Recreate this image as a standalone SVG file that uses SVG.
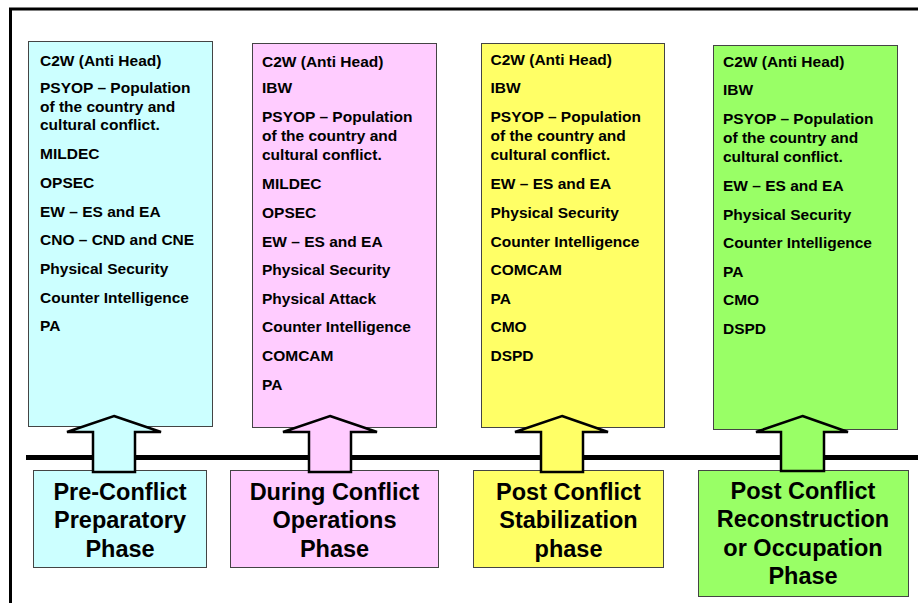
<svg xmlns="http://www.w3.org/2000/svg" width="918" height="603" viewBox="0 0 918 603">
<style>
.frame{fill:none;stroke:#000;stroke-width:3}
.box{stroke:#444;stroke-width:1}
.cy{fill:#CCFFFF}.pk{fill:#FFCCFF}.ye{fill:#FFFF66}.gr{fill:#99FF66}
.it{font-family:"Liberation Sans",Arial,sans-serif;font-weight:bold;font-size:15.5px;fill:#000}
.ph{font-family:"Liberation Sans",Arial,sans-serif;font-weight:bold;font-size:23.5px;fill:#000;text-anchor:middle}
.arr{stroke:#000;stroke-width:2.5;stroke-linejoin:miter}
.tl{stroke:#000;stroke-width:5}
</style>
<rect width="918" height="603" fill="#fff"/>
<path class="frame" d="M10.5,620 V9 H930"/>
<g id="connectors">
<line class="tl" x1="26" y1="457.5" x2="918" y2="457.5"/>
</g>
<g id="box1">
<rect class="box cy" x="28.5" y="41.5" width="184" height="385"/>
<text class="it" x="40" y="65.5">C2W (Anti Head)</text>
<text class="it" x="40" y="92.5">PSYOP – Population</text>
<text class="it" x="40" y="111.5">of the country and</text>
<text class="it" x="40" y="130">cultural conflict.</text>
<text class="it" x="40" y="159">MILDEC</text>
<text class="it" x="40" y="188">OPSEC</text>
<text class="it" x="40" y="216.5">EW – ES and EA</text>
<text class="it" x="40" y="245">CNO – CND and CNE</text>
<text class="it" x="40" y="274">Physical Security</text>
<text class="it" x="40" y="302.5">Counter Intelligence</text>
<text class="it" x="40" y="331">PA</text>
</g>
<g id="box2">
<rect class="box pk" x="252.5" y="43.5" width="184" height="384"/>
<text class="it" x="262" y="67">C2W (Anti Head)</text>
<text class="it" x="262" y="93">IBW</text>
<text class="it" x="262" y="122">PSYOP – Population</text>
<text class="it" x="262" y="141">of the country and</text>
<text class="it" x="262" y="159.5">cultural conflict.</text>
<text class="it" x="262" y="189">MILDEC</text>
<text class="it" x="262" y="218">OPSEC</text>
<text class="it" x="262" y="246.5">EW – ES and EA</text>
<text class="it" x="262" y="275">Physical Security</text>
<text class="it" x="262" y="303.5">Physical Attack</text>
<text class="it" x="262" y="332">Counter Intelligence</text>
<text class="it" x="262" y="361">COMCAM</text>
<text class="it" x="262" y="389.5">PA</text>
</g>
<g id="box3">
<rect class="box ye" x="481.5" y="43.5" width="183" height="384"/>
<text class="it" x="490.5" y="64.5">C2W (Anti Head)</text>
<text class="it" x="490.5" y="93">IBW</text>
<text class="it" x="490.5" y="122">PSYOP – Population</text>
<text class="it" x="490.5" y="141">of the country and</text>
<text class="it" x="490.5" y="160">cultural conflict.</text>
<text class="it" x="490.5" y="189">EW – ES and EA</text>
<text class="it" x="490.5" y="218">Physical Security</text>
<text class="it" x="490.5" y="246.5">Counter Intelligence</text>
<text class="it" x="490.5" y="275">COMCAM</text>
<text class="it" x="490.5" y="303.5">PA</text>
<text class="it" x="490.5" y="332">CMO</text>
<text class="it" x="490.5" y="361">DSPD</text>
</g>
<g id="box4">
<rect class="box gr" x="713.5" y="45.5" width="184" height="384"/>
<text class="it" x="723" y="66.5">C2W (Anti Head)</text>
<text class="it" x="723" y="95">IBW</text>
<text class="it" x="723" y="124">PSYOP – Population</text>
<text class="it" x="723" y="142.5">of the country and</text>
<text class="it" x="723" y="161.5">cultural conflict.</text>
<text class="it" x="723" y="190.5">EW – ES and EA</text>
<text class="it" x="723" y="219.5">Physical Security</text>
<text class="it" x="723" y="248">Counter Intelligence</text>
<text class="it" x="723" y="276.5">PA</text>
<text class="it" x="723" y="305">CMO</text>
<text class="it" x="723" y="334">DSPD</text>
</g>
<g id="phase1">
<rect class="box cy" x="33.5" y="470.5" width="173" height="97"/>
<text class="ph" x="120" y="499.5">Pre-Conflict</text>
<text class="ph" x="120" y="528">Preparatory</text>
<text class="ph" x="120" y="556.5">Phase</text>
</g>
<g id="phase2">
<rect class="box pk" x="230.5" y="470.5" width="208" height="97"/>
<text class="ph" x="334.5" y="499.5">During Conflict</text>
<text class="ph" x="334.5" y="528">Operations</text>
<text class="ph" x="334.5" y="556.5">Phase</text>
</g>
<g id="phase3">
<rect class="box ye" x="473.5" y="470.5" width="190" height="97"/>
<text class="ph" x="568.5" y="499.5">Post Conflict</text>
<text class="ph" x="568.5" y="528">Stabilization</text>
<text class="ph" x="568.5" y="556.5">phase</text>
</g>
<g id="phase4">
<rect class="box gr" x="698.5" y="470.5" width="210" height="126"/>
<text class="ph" x="803" y="498.5">Post Conflict</text>
<text class="ph" x="803" y="527">Reconstruction</text>
<text class="ph" x="803" y="555.5">or Occupation</text>
<text class="ph" x="803" y="584">Phase</text>
</g>
<g id="arrows">
<path class="arr cy" d="M114,416 L161,432 H135 V472 H93 V432 H67 Z"/>
<path class="arr pk" d="M330,416 L377,432 H351 V472 H309 V432 H283 Z"/>
<path class="arr ye" d="M562,416 L608,432 H583 V472 H541 V432 H515 Z"/>
<path class="arr gr" d="M802.5,416 L848,432 H824 V471 H781 V432 H756 Z"/>
</g>
</svg>
